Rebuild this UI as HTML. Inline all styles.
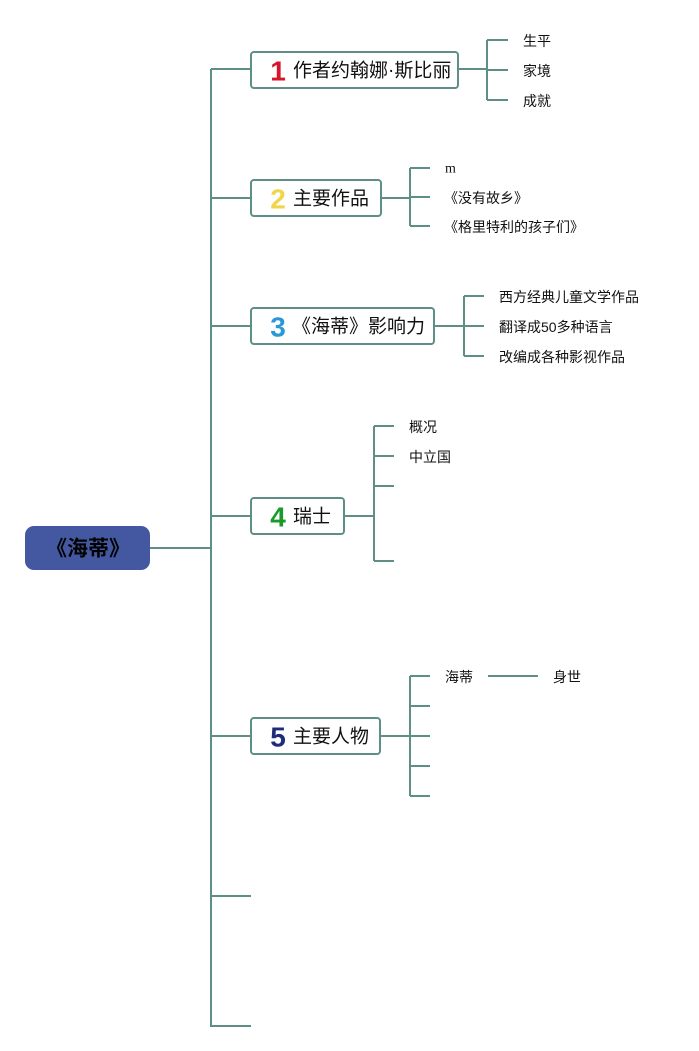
<!DOCTYPE html>
<html>
<head>
<meta charset="utf-8">
<style>
html,body{margin:0;padding:0;background:#fff;}
svg{display:block;}
text{font-family:"Liberation Sans","Noto Sans CJK SC",sans-serif;fill:#111;}
.leaf{font-size:14px;}
.node{font-size:19px;}
.num{font-family:"Liberation Sans","DejaVu Sans",sans-serif;font-weight:bold;font-size:28px;}
</style>
</head>
<body>
<svg width="699" height="1051" viewBox="0 0 699 1051" xmlns="http://www.w3.org/2000/svg">
<g stroke="#5e8f86" stroke-width="2" fill="none">
  <line x1="211" y1="69" x2="211" y2="1027"/>
  <line x1="150" y1="548" x2="211" y2="548"/>
  <line x1="211" y1="69" x2="251" y2="69"/>
  <line x1="211" y1="198" x2="251" y2="198"/>
  <line x1="211" y1="326" x2="251" y2="326"/>
  <line x1="211" y1="516" x2="251" y2="516"/>
  <line x1="211" y1="736" x2="251" y2="736"/>
  <line x1="211" y1="896" x2="251" y2="896"/>
  <line x1="211" y1="1026" x2="251" y2="1026"/>

  <line x1="458" y1="69" x2="487" y2="69"/>
  <line x1="487" y1="40" x2="487" y2="100"/>
  <line x1="487" y1="40" x2="508" y2="40"/>
  <line x1="487" y1="70" x2="508" y2="70"/>
  <line x1="487" y1="100" x2="508" y2="100"/>

  <line x1="381" y1="198" x2="409" y2="198"/>
  <line x1="410" y1="168" x2="410" y2="226"/>
  <line x1="410" y1="168" x2="430" y2="168"/>
  <line x1="410" y1="197" x2="430" y2="197"/>
  <line x1="410" y1="226" x2="430" y2="226"/>

  <line x1="434" y1="326" x2="464" y2="326"/>
  <line x1="464" y1="296" x2="464" y2="356"/>
  <line x1="464" y1="296" x2="484" y2="296"/>
  <line x1="464" y1="326" x2="484" y2="326"/>
  <line x1="464" y1="356" x2="484" y2="356"/>

  <line x1="344" y1="516" x2="374" y2="516"/>
  <line x1="374" y1="426" x2="374" y2="561"/>
  <line x1="374" y1="426" x2="394" y2="426"/>
  <line x1="374" y1="456" x2="394" y2="456"/>
  <line x1="374" y1="486" x2="394" y2="486"/>
  <line x1="374" y1="561" x2="394" y2="561"/>

  <line x1="380" y1="736" x2="410" y2="736"/>
  <line x1="410" y1="676" x2="410" y2="796"/>
  <line x1="410" y1="676" x2="430" y2="676"/>
  <line x1="410" y1="706" x2="430" y2="706"/>
  <line x1="410" y1="736" x2="430" y2="736"/>
  <line x1="410" y1="766" x2="430" y2="766"/>
  <line x1="410" y1="796" x2="430" y2="796"/>
  <line x1="488" y1="676" x2="538" y2="676"/>

  <rect x="251" y="52" width="207" height="36" rx="3" fill="#fff"/>
  <rect x="251" y="180" width="130" height="36" rx="3" fill="#fff"/>
  <rect x="251" y="308" width="183" height="36" rx="3" fill="#fff"/>
  <rect x="251" y="498" width="93" height="36" rx="3" fill="#fff"/>
  <rect x="251" y="718" width="129" height="36" rx="3" fill="#fff"/>
</g>

<rect x="25" y="526" width="125" height="44" rx="9" fill="#4358a0"/>
<text x="88" y="549" font-size="21" font-weight="bold" text-anchor="middle" dominant-baseline="central" style="fill:#000">《海蒂》</text>

<text class="num" x="278" y="71" text-anchor="middle" dominant-baseline="central" style="fill:#d7152a">1</text>
<text class="node" x="293" y="71" dominant-baseline="central">作者约翰娜·斯比丽</text>

<text class="num" x="278" y="199" text-anchor="middle" dominant-baseline="central" style="fill:#f0d54a">2</text>
<text class="node" x="293" y="199" dominant-baseline="central">主要作品</text>

<text class="num" x="278" y="327" text-anchor="middle" dominant-baseline="central" style="fill:#2a98d8">3</text>
<text class="node" x="292" y="327" dominant-baseline="central">《海蒂》影响力</text>

<text class="num" x="278" y="517" text-anchor="middle" dominant-baseline="central" style="fill:#1a9a2a">4</text>
<text class="node" x="293" y="517" dominant-baseline="central">瑞士</text>

<text class="num" x="278" y="737" text-anchor="middle" dominant-baseline="central" style="fill:#1f2c7c">5</text>
<text class="node" x="293" y="737" dominant-baseline="central">主要人物</text>

<text class="leaf" x="523" y="41" dominant-baseline="central">生平</text>
<text class="leaf" x="523" y="71" dominant-baseline="central">家境</text>
<text class="leaf" x="523" y="101" dominant-baseline="central">成就</text>

<text x="445" y="169" font-size="14" dominant-baseline="central" style="font-family:'Liberation Serif',serif;">m</text>
<text class="leaf" x="444" y="198" dominant-baseline="central">《没有故乡》</text>
<text class="leaf" x="444" y="227" dominant-baseline="central">《格里特利的孩子们》</text>

<text class="leaf" x="499" y="297" dominant-baseline="central">西方经典儿童文学作品</text>
<text class="leaf" x="499" y="327" dominant-baseline="central">翻译成50多种语言</text>
<text class="leaf" x="499" y="357" dominant-baseline="central">改编成各种影视作品</text>

<text class="leaf" x="409" y="427" dominant-baseline="central">概况</text>
<text class="leaf" x="409" y="457" dominant-baseline="central">中立国</text>

<text class="leaf" x="445" y="677" dominant-baseline="central">海蒂</text>
<text class="leaf" x="553" y="677" dominant-baseline="central">身世</text>
</svg>
</body>
</html>
